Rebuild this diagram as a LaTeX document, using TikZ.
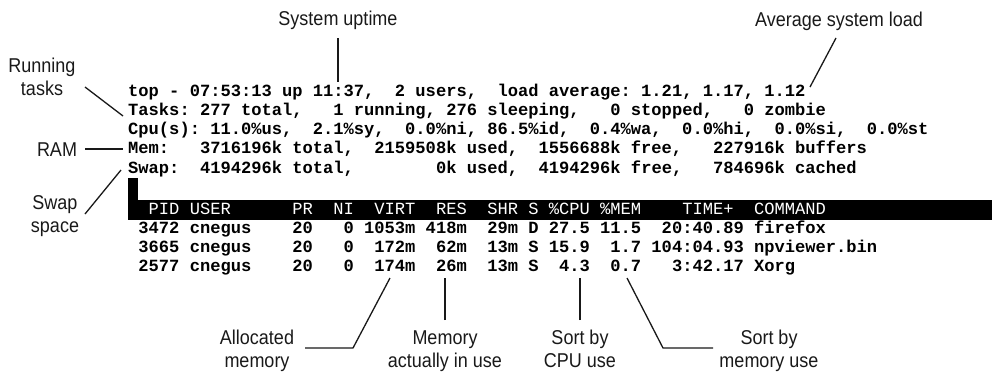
\documentclass[tikz,border=0pt]{standalone}
\usepackage{fontspec}
\setmonofont{Liberation Mono}
\newfontfamily\lblfont[FakeStretch=0.9]{Liberation Sans}
\begin{document}
\begin{tikzpicture}[x=1pt,y=-1pt,
  term/.style={anchor=base west,inner sep=0pt,font=\fontsize{17.1}{19}\selectfont\ttfamily\bfseries,text=black},
  hdr/.style={anchor=base west,inner sep=0pt,font=\fontsize{17.1}{19}\selectfont\ttfamily,text=white},
  lbl/.style={anchor=base,inner sep=0pt,align=center,font=\lblfont\fontsize{20}{22.5}\selectfont,text=black!90},
  ptr/.style={line width=1.3pt,black!90}]
\useasboundingbox (0,0) rectangle (992,372);
% terminal
\fill[black] (128,199.5) rectangle (992,219.5);
\fill[black] (128,177.5) rectangle (138,200);
\node[term] (l1) at (128,96) {top~-~07:53:13~up~11:37,~~2~users,~~load~average:~1.21,~1.17,~1.12};
\node[term] (l2) at (128,115.3) {Tasks:~277~total,~~~1~running,~276~sleeping,~~~0~stopped,~~~0~zombie};
\node[term] (l3) at (128,134.6) {Cpu(s):~11.0\%us,~~2.1\%sy,~~0.0\%ni,~86.5\%id,~~0.4\%wa,~~0.0\%hi,~~0.0\%si,~~0.0\%st};
\node[term] (l4) at (128,153.9) {Mem:~~~3716196k~total,~~2159508k~used,~~1556688k~free,~~~227916k~buffers};
\node[term] (l5) at (128,173.2) {Swap:~~4194296k~total,~~~~~~~~0k~used,~~4194296k~free,~~~784696k~cached};
\node[hdr] (hd) at (128,214.3) {~~PID~USER~~~~~~PR~~NI~~VIRT~~RES~~SHR~S~\%CPU~\%MEM~~~~TIME+~~COMMAND};
\node[term] (r1) at (128,233) {~3472~cnegus~~~~20~~~0~1053m~418m~~29m~D~27.5~11.5~~20:40.89~firefox};
\node[term] (r2) at (128,252) {~3665~cnegus~~~~20~~~0~~172m~~62m~~13m~S~15.9~~1.7~104:04.93~npviewer.bin};
\node[term] (r3) at (128,271) {~2577~cnegus~~~~20~~~0~~174m~~26m~~13m~S~~4.3~~0.7~~~3:42.17~Xorg};
% labels (base anchor = baseline of last line)
\node[lbl] (run) at (42,95) {Running\\tasks};
\node[lbl] (ram) at (57,156) {RAM};
\node[lbl] (swp) at (55,232) {Swap\\space};
\node[lbl] (upt) at (338,25) {System uptime};
\node[lbl] (avg) at (839,27) {Average system load};
\node[lbl] (alc) at (257,367) {Allocated\\memory};
\node[lbl] (mem) at (445,367) {Memory\\actually in use};
\node[lbl] (cpu) at (580,367) {Sort by\\CPU use};
\node[lbl] (smu) at (769,367) {Sort by\\memory use};
% pointer ends
\coordinate (runA) at (85,87);   \coordinate (runB) at (123,116);
\coordinate (ramA) at (85,149);  \coordinate (ramB) at (123,149);
\coordinate (swpA) at (85,214);  \coordinate (swpB) at (121,170);
\coordinate (uptA) at (338,38);  \coordinate (uptB) at (338,82);
\coordinate (avgA) at (836,38);  \coordinate (avgB) at (810,87);
\coordinate (alcA) at (305,348); \coordinate (alcK) at (353,348); \coordinate (alcB) at (390,278);
\coordinate (memA) at (445,320); \coordinate (memB) at (445,278);
\coordinate (cpuA) at (580,320); \coordinate (cpuB) at (580,278);
\coordinate (smuA) at (713,348); \coordinate (smuK) at (663,348); \coordinate (smuB) at (627,278);
\draw[ptr] (runA) -- (runB);
\draw[ptr] (ramA) -- (ramB);
\draw[ptr] (swpA) -- (swpB);
\draw[ptr] (uptA) -- (uptB);
\draw[ptr] (avgA) -- (avgB);
\draw[ptr] (alcA) -- (alcK) -- (alcB);
\draw[ptr] (memA) -- (memB);
\draw[ptr] (cpuA) -- (cpuB);
\draw[ptr] (smuA) -- (smuK) -- (smuB);
\end{tikzpicture}
\end{document}
